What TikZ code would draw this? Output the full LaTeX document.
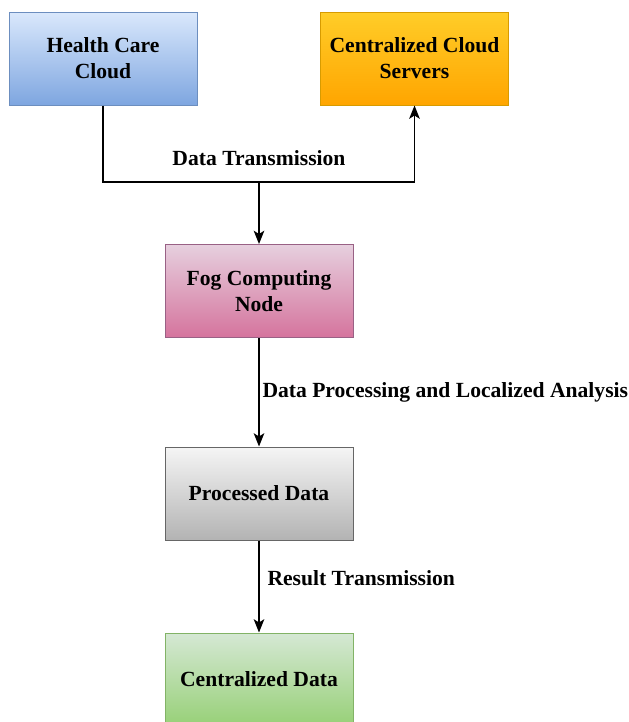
\documentclass[tikz,border=0pt]{standalone}
\usepackage{fontspec}
\setmainfont{Liberation Serif}
\usetikzlibrary{arrows.meta}

\definecolor{blueTop}{HTML}{DAE8FC}
\definecolor{blueBot}{HTML}{7EA6E0}
\definecolor{blueLine}{HTML}{6C8EBF}
\definecolor{orangeTop}{HTML}{FFCD28}
\definecolor{orangeBot}{HTML}{FFA500}
\definecolor{orangeLine}{HTML}{D79B00}
\definecolor{pinkTop}{HTML}{E6D0DE}
\definecolor{pinkBot}{HTML}{D5739D}
\definecolor{pinkLine}{HTML}{996185}
\definecolor{grayTop}{HTML}{F5F5F5}
\definecolor{grayBot}{HTML}{B3B3B3}
\definecolor{grayLine}{HTML}{666666}
\definecolor{greenTop}{HTML}{D5E8D4}
\definecolor{greenBot}{HTML}{97D077}
\definecolor{greenLine}{HTML}{82B366}

\tikzset{every picture/.style={line width=0.75pt}}
\tikzset{
  box/.style={rectangle, minimum width=141pt, minimum height=69.75pt, inner sep=2pt,
    align=center, font=\fontsize{16.2}{19.5}\selectfont\bfseries, line width=0.75pt},
  lbl/.style={inner sep=0pt, font=\fontsize{16.2}{19.5}\selectfont\bfseries},
  conn/.style={line width=1pt, -{Stealth[length=10pt,width=8pt,inset=2.5pt]}}
}

\begin{document}
\begin{tikzpicture}[x=0.75pt,y=0.75pt,yscale=-1,xscale=1]
        \useasboundingbox (0,0) rectangle (629,722);

        %Shape: Rectangle [id:hcc] 
        \node [box, draw=blueLine, top color=blueTop, bottom color=blueBot] (hcc) at (103,58.5) {Health Care\\Cloud};
        %Shape: Rectangle [id:servers] 
        \node [box, draw=orangeLine, top color=orangeTop, bottom color=orangeBot] (servers) at (414.5,58.5) {Centralized Cloud\\Servers};
        %Shape: Rectangle [id:fog] 
        \node [box, draw=pinkLine, top color=pinkTop, bottom color=pinkBot] (fog) at (259,291) {Fog Computing\\Node};
        %Shape: Rectangle [id:processed] 
        \node [box, draw=grayLine, top color=grayTop, bottom color=grayBot] (processed) at (259,493.5) {Processed Data};
        %Shape: Rectangle [id:central] 
        \node [box, draw=greenLine, top color=greenTop, bottom color=greenBot] (central) at (259,679.5) {Centralized Data};

        \coordinate (split) at (259,182);

        %Straight Lines [id:transmit] 
        \draw [conn] (hcc.south) |- (split) -| (servers.south) ;
        %Straight Lines [id:tofog] 
        \draw [conn] (split) -- (fog.north) ;
        %Straight Lines [id:toproc] 
        \draw [conn] (fog.south) -- (processed.north) ;
        %Straight Lines [id:tocentral] 
        \draw [conn] (processed.south) -- (central.north) ;

        % Text Node
        \node [lbl] (lblTransmit) at (259,158) {Data Transmission};
        % Text Node
        \node [lbl, anchor=west] (lblProcess) at (262,392) {Data Processing and Localized Analysis};
        % Text Node
        \node [lbl, anchor=west] (lblResult) at (267,578) {Result Transmission};

    \end{tikzpicture}
\end{document}
